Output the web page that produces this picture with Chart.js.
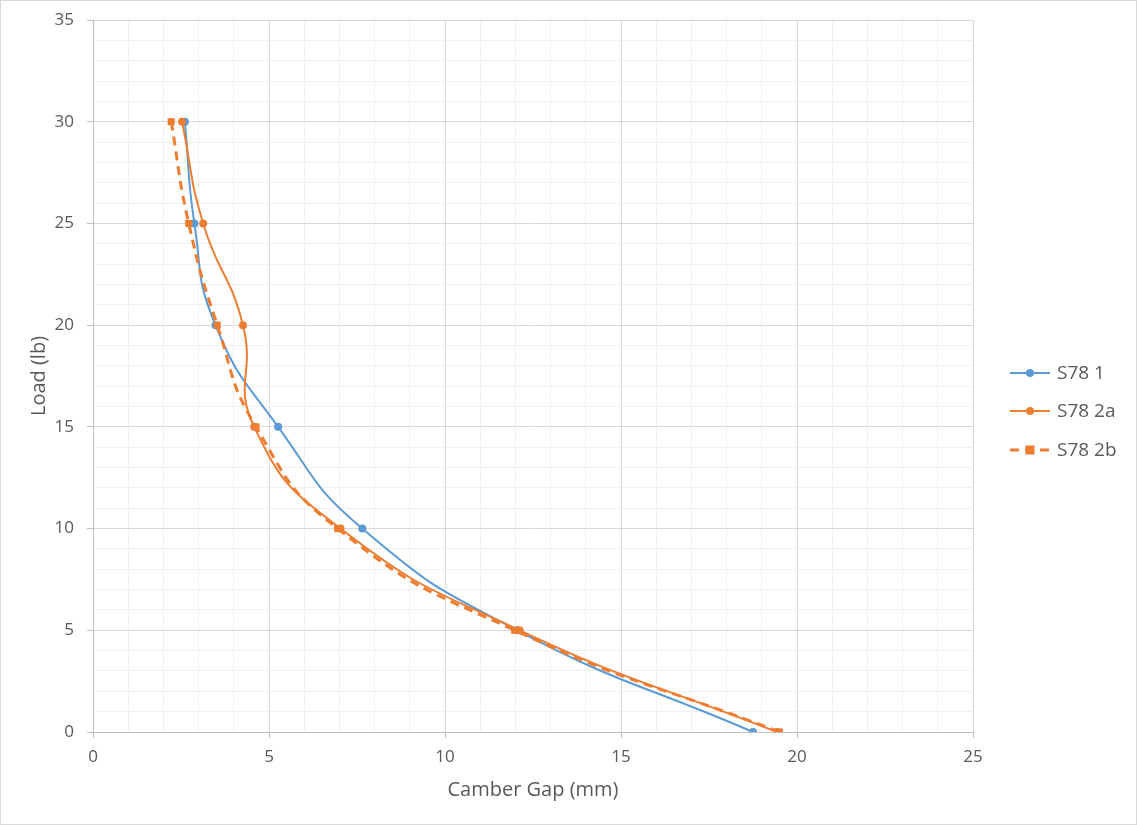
<!DOCTYPE html>
<html>
<head>
<meta charset="utf-8">
<title>Camber Gap vs Load</title>
<script src="https://cdn.jsdelivr.net/npm/chart.js@4.4.1/dist/chart.umd.min.js"></script>
<style>
  html, body { margin: 0; padding: 0; background: #fff; }
  #wrap { width: 1137px; height: 825px; }
</style>
</head>
<body>
<div id="wrap"><canvas id="chart" width="1137" height="825"></canvas></div>
<script>
const loadLevels = [0, 5, 10, 15, 20, 25, 30];
const gapS78_1  = [18.75, 12.05, 7.65, 5.26, 3.48, 2.88, 2.61];
const gapS78_2a = [19.43, 12.12, 7.03, 4.58, 4.26, 3.13, 2.53];
const gapS78_2b = [19.50, 11.98, 6.95, 4.63, 3.53, 2.72, 2.22];

const seriesNames = ['S78 1', 'S78 2a', 'S78 2b'];

const BLUE = '#5b9bd5';
const ORANGE = '#ed7d31';
const TEXT = '#595959';
const FONT = '"Open Sans", "Noto Sans", sans-serif';

function toPoints(gaps) {
    return gaps.map((g, i) => ({ x: g, y: loadLevels[i] }));
}

// major lines every 5, faint minor lines every 1
const gridColor = ctx => (ctx.tick && ctx.tick.value % 5 === 0) ? '#d9d9d9' : '#f0f0f0';
const tickMarkColor = ctx => (ctx.tick && ctx.tick.value % 5 === 0) ? '#bfbfbf' : 'rgba(0,0,0,0)';
const majorLabel = v => (v % 5 === 0 ? v : '');

// chart border + right-hand legend, Excel style
const excelFrame = {
    id: 'excelFrame',
    afterDraw(chart) {
        const ctx = chart.ctx;
        ctx.save();
        ctx.strokeStyle = '#d9d9d9';
        ctx.lineWidth = 1;
        ctx.strokeRect(0.5, 0.5, chart.width - 1, chart.height - 1);

        const x0 = 1010, x1 = 1050, rowY = [373, 411, 450];
        ctx.font = '19px ' + FONT;
        ctx.textBaseline = 'middle';
        ctx.textAlign = 'left';
        chart.data.datasets.forEach((ds, i) => {
            const y = rowY[i];
            ctx.strokeStyle = ds.borderColor;
            ctx.lineWidth = ds.borderWidth;
            ctx.setLineDash(ds.borderDash || []);
            ctx.beginPath();
            ctx.moveTo(x0, y);
            ctx.lineTo(x1, y);
            ctx.stroke();
            ctx.setLineDash([]);
            ctx.fillStyle = ds.pointBackgroundColor;
            const cx = (x0 + x1) / 2;
            if (ds.pointStyle === 'rect') {
                ctx.fillRect(cx - 4.5, y - 4.5, 9, 9);
            } else {
                ctx.beginPath();
                ctx.arc(cx, y, 4, 0, Math.PI * 2);
                ctx.fill();
            }
            ctx.fillStyle = TEXT;
            ctx.fillText(ds.label, x1 + 7, y + 1);
        });
        ctx.restore();
    }
};

new Chart(document.getElementById('chart'), {
    type: 'scatter',
    data: {
        datasets: [
            {
                label: seriesNames[0],
                data: toPoints(gapS78_1),
                showLine: true,
                tension: 0.5,
                borderColor: BLUE,
                borderWidth: 2,
                pointStyle: 'circle',
                pointRadius: 4,
                pointBackgroundColor: BLUE,
                pointBorderWidth: 0,
                order: 3
            },
            {
                label: seriesNames[1],
                data: toPoints(gapS78_2a),
                showLine: true,
                tension: 0.5,
                borderColor: ORANGE,
                borderWidth: 2,
                pointStyle: 'circle',
                pointRadius: 4,
                pointBackgroundColor: ORANGE,
                pointBorderWidth: 0,
                order: 2
            },
            {
                label: seriesNames[2],
                data: toPoints(gapS78_2b),
                showLine: true,
                tension: 0.5,
                borderColor: ORANGE,
                borderWidth: 3,
                borderDash: [9, 6],
                pointStyle: 'rect',
                pointRadius: 5,
                pointBackgroundColor: ORANGE,
                pointBorderWidth: 0,
                order: 1
            }
        ]
    },
    options: {
        responsive: false,
        animation: false,
        layout: { padding: { top: 20, right: 164, left: 0, bottom: 0 } },
        plugins: {
            legend: { display: false },
            tooltip: { enabled: false }
        },
        scales: {
            x: {
                type: 'linear',
                min: 0,
                max: 25,
                afterFit: s => { s.height = 93; s.paddingLeft = 0; s.paddingRight = 0; },
                ticks: {
                    stepSize: 1,
                    autoSkip: false,
                    maxRotation: 0,
                    padding: 9,
                    color: TEXT,
                    font: { family: FONT, size: 17 },
                    callback: majorLabel
                },
                grid: {
                    color: gridColor,
                    tickColor: tickMarkColor,
                    tickLength: 6,
                    drawTicks: true
                },
                border: { color: '#bfbfbf', width: 1 },
                title: {
                    display: true,
                    text: 'Camber Gap (mm)',
                    color: TEXT,
                    font: { family: FONT, size: 20 },
                    padding: { top: 0, bottom: 23 }
                }
            },
            y: {
                type: 'linear',
                min: 0,
                max: 35,
                afterFit: s => { s.width = 93; s.paddingTop = 0; s.paddingBottom = 0; },
                ticks: {
                    stepSize: 1,
                    autoSkip: false,
                    padding: 13,
                    color: TEXT,
                    font: { family: FONT, size: 17 },
                    callback: majorLabel
                },
                grid: {
                    color: gridColor,
                    tickColor: tickMarkColor,
                    tickLength: 6,
                    drawTicks: true
                },
                border: { color: '#bfbfbf', width: 1 },
                title: {
                    display: true,
                    text: 'Load (lb)',
                    color: TEXT,
                    font: { family: FONT, size: 20 },
                    padding: { top: 27, bottom: 0 }
                }
            }
        }
    },
    plugins: [excelFrame]
});
</script>
</body>
</html>
